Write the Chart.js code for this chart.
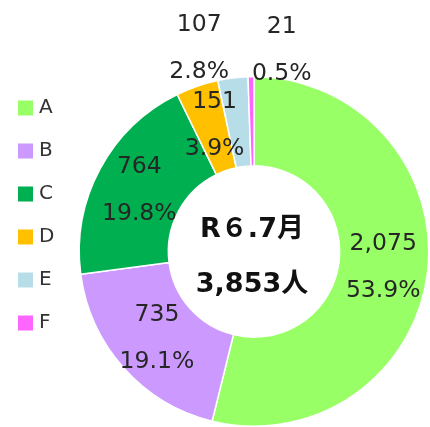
<!DOCTYPE html>
<html>
<head>
<meta charset="utf-8">
<script src="https://cdn.jsdelivr.net/npm/chart.js@4"></script>
<style>
html,body{margin:0;padding:0;background:#fff;}
#wrap{width:430px;height:427px;position:relative;}
</style>
</head>
<body>
<div id="wrap"><canvas id="c" width="430" height="427"></canvas></div>
<script>
const categories = ['A', 'B', 'C', 'D', 'E', 'F'];
const counts = [2075, 735, 764, 151, 107, 21];
const colors = ['#99FF66', '#CC99FF', '#00B050', '#FFC000', '#B7DDE8', '#FF66FF'];
const centerLines = ['R６.7月', '3,853人'];

const total = counts.reduce((a, b) => a + b, 0);

// label nudges for tiny slices (drawn outside the ring)
const labelNudge = { 3: [3, -3], 4: [-39, -74], 5: [30, -71] };

const labelPlugin = {
  id: 'sliceLabels',
  afterDatasetsDraw(chart) {
    const ctx = chart.ctx;
    const meta = chart.getDatasetMeta(0);
    ctx.save();
    ctx.font = '23.5px "DejaVu Sans"';
    ctx.fillStyle = '#262626';
    ctx.textAlign = 'center';
    ctx.textBaseline = 'middle';
    meta.data.forEach((arc, i) => {
      const p = arc.tooltipPosition();
      let x = p.x, y = p.y;
      if (labelNudge[i]) { x += labelNudge[i][0]; y += labelNudge[i][1]; }
      const v = counts[i].toLocaleString('en-US');
      const pct = (counts[i] / total * 100).toFixed(1) + '%';
      ctx.fillText(v, x, y - 23.5);
      ctx.fillText(pct, x, y + 23.5);
    });
    // center text
    const cx = meta.data[0].x, cy = meta.data[0].y;
    ctx.font = 'bold 27px "DejaVu Sans", "Noto Sans CJK JP"';
    ctx.fillStyle = '#111';
    ctx.fillText(centerLines[0], cx - 2, cy - 22);
    ctx.fillText(centerLines[1], cx - 2, cy + 33);
    // legend
    ctx.font = '20px "DejaVu Sans"';
    ctx.textAlign = 'left';
    chart.data.labels.forEach((lab, i) => {
      const y = 108 + i * 43;
      ctx.fillStyle = chart.data.datasets[0].backgroundColor[i];
      ctx.fillRect(18, y - 7.5, 15, 15);
      ctx.fillStyle = '#333';
      ctx.fillText(lab, 39, y);
    });
    ctx.restore();
  }
};

new Chart(document.getElementById('c'), {
  type: 'doughnut',
  data: {
    labels: categories,
    datasets: [{
      data: counts,
      backgroundColor: colors,
      borderColor: '#ffffff',
      borderWidth: 1.5
    }]
  },
  options: {
    responsive: false,
    animation: false,
    cutout: '49%',
    rotation: 0,
    layout: { padding: { left: 78, top: 76, right: 0, bottom: 0 } },
    plugins: {
      legend: { display: false },
      tooltip: { enabled: false }
    }
  },
  plugins: [labelPlugin]
});
</script>
</body>
</html>
